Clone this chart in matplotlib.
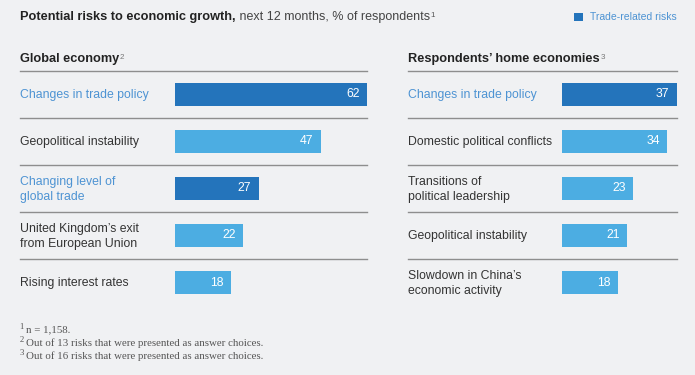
import matplotlib
matplotlib.use("Agg")
import matplotlib.pyplot as plt

# ---- data -------------------------------------------------------------
global_labels = [
    "Changes in trade policy",
    "Geopolitical instability",
    "Changing level of\nglobal trade",
    "United Kingdom\u2019s exit\nfrom European Union",
    "Rising interest rates",
]
global_values = [62, 47, 27, 22, 18]
global_trade = [True, False, True, False, False]

home_labels = [
    "Changes in trade policy",
    "Domestic political conflicts",
    "Transitions of\npolitical leadership",
    "Geopolitical instability",
    "Slowdown in China\u2019s\neconomic activity",
]
home_values = [37, 34, 23, 21, 18]
home_trade = [True, False, False, False, False]

footnotes = [
    ("1", "n = 1,158."),
    ("2", "Out of 13 risks that were presented as answer choices."),
    ("3", "Out of 16 risks that were presented as answer choices."),
]

# ---- style ------------------------------------------------------------
W, H = 695, 375
BG = "#f0f1f3"
DARK = "#2474bb"
LIGHT = "#4cade2"
LABEL_BLUE = "#4d93d3"
TEXT = "#333333"
RULE = "#8e8e8e"
SANS = "Liberation Sans"
SERIF = "Liberation Serif"

PX_PER_UNIT = 3.1
ROW_H = 47
AX_TOP = 71

plt.rcParams["font.family"] = SANS

fig = plt.figure(figsize=(W / 100, H / 100), dpi=100, facecolor=BG)


def fx(x):
    return x / W


def fy(y):
    return 1 - y / H


def panel(x0, x1, bar_x, labels, values, trade, header, note):
    n = len(values)
    ax = fig.add_axes([fx(x0), fy(AX_TOP + n * ROW_H), (x1 - x0) / W, n * ROW_H / H])
    ax.patch.set_alpha(0)
    lo = -(bar_x - x0) / PX_PER_UNIT
    hi = (x1 - bar_x) / PX_PER_UNIT
    ax.set_xlim(lo, hi)
    ax.set_ylim(n - 0.5, -0.5)
    ax.axis("off")

    colors = [DARK if t else LIGHT for t in trade]
    ax.barh(range(n), values, height=0.51, color=colors, left=0)
    for i, (v, lab, t) in enumerate(zip(values, labels, trade)):
        ax.annotate(str(v), xy=(v, i), xytext=(-5.5, 0), textcoords="offset points",
                    ha="right", va="center", color="white", fontsize=8.8)
        ax.text(lo, i + 0.02, lab, ha="left", va="center", fontsize=8.8,
                color=LABEL_BLUE if t else TEXT, linespacing=1.42)
    for k in range(n):
        ax.axhline(k - 0.5, color=RULE, lw=1.0, clip_on=False)

    h = fig.text(fx(x0), fy(62), header, fontsize=9.2, fontweight="bold",
                 color="#222222", va="baseline")
    ax.annotate(note, xy=(1, 1), xycoords=h, xytext=(0.5, -0.5),
                textcoords="offset points", ha="left", va="top",
                fontsize=5.8, color="#777777")
    return ax


panel(20, 367.2, 175, global_labels, global_values, global_trade, "Global economy", "2")
panel(408, 676.7, 562, home_labels, home_values, home_trade,
      "Respondents\u2019 home economies", "3")

# ---- title ------------------------------------------------------------
t1 = fig.text(fx(20), fy(20), "Potential risks to economic growth,", fontsize=9.2,
              fontweight="bold", color="#222222", va="baseline")
t2 = plt.annotate(" next 12 months, % of respondents", xy=(1, 0), xycoords=t1,
                  ha="left", va="bottom", fontsize=9, color="#444444",
                  annotation_clip=False)
plt.annotate("1", xy=(1, 1), xycoords=t2, xytext=(0.5, -0.5), textcoords="offset points",
             ha="left", va="top", fontsize=5.8, color="#555555", annotation_clip=False)

# ---- legend -----------------------------------------------------------
lax = fig.add_axes([fx(574), fy(21), 9 / W, 8 / H])
lax.axis("off")
lax.add_patch(plt.Rectangle((0, 0), 1, 1, color=DARK, transform=lax.transAxes))
fig.text(fx(590), fy(17), "Trade-related risks", fontsize=7.5, color=LABEL_BLUE,
         va="center", ha="left")

# ---- footnotes --------------------------------------------------------
for k, (mark, txt) in enumerate(footnotes):
    y = 330 + k * 13
    fig.text(fx(19.5), fy(y - 3), mark, fontsize=6.2, family=SERIF,
             color="#555555", va="center", ha="left")
    fig.text(fx(26), fy(y), txt, fontsize=7.8, family=SERIF, color="#555555",
             va="center", ha="left")

fig.savefig("out.png", dpi=100, facecolor=BG)
